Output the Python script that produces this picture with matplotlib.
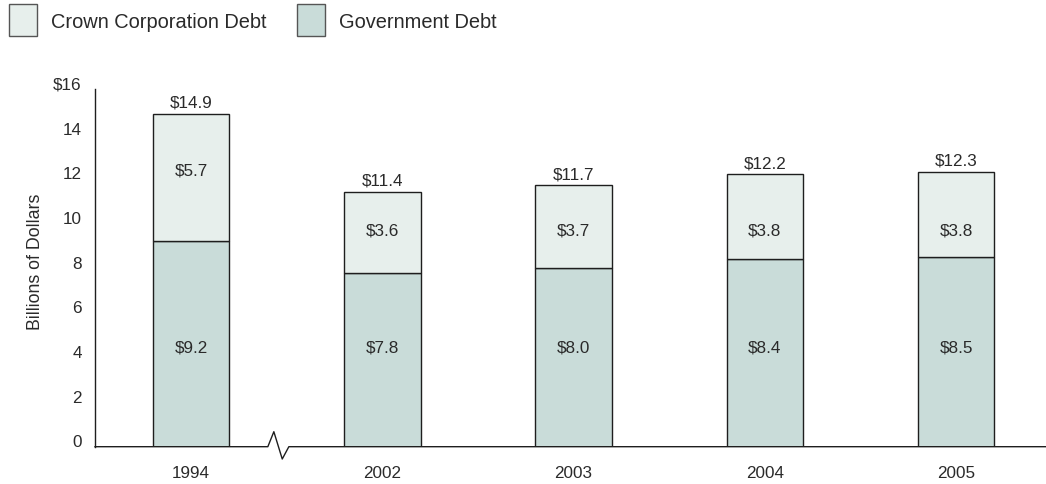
import matplotlib.pyplot as plt
import matplotlib.transforms as mtransforms
from matplotlib.patches import Rectangle
from matplotlib import font_manager

# Debt by year, billions of dollars
years = ['1994', '2002', '2003', '2004', '2005']
government_debt = [9.2, 7.8, 8.0, 8.4, 8.5]
crown_debt = [5.7, 3.6, 3.7, 3.8, 3.8]
total_debt = [14.9, 11.4, 11.7, 12.2, 12.3]
y_ticks = [0, 2, 4, 6, 8, 10, 12, 14, 16]
y_tick_labels = ['0', '2', '4', '6', '8', '10', '12', '14', '$16']

# label heights inside the segments
gov_label_y = [4.45, 4.45, 4.45, 4.45, 4.45]
crown_label_y = [12.4, 9.7, 9.7, 9.7, 9.7]

CROWN_COLOR = '#e7efec'
GOV_COLOR = '#c9dcd9'
EDGE_COLOR = '#1e1e1e'
TEXT_COLOR = '#2a2a2a'
NUM_SIZE = 12.3

installed = {f.name for f in font_manager.fontManager.ttflist}
family = 'Liberation Sans Narrow' if 'Liberation Sans Narrow' in installed else 'Liberation Sans'
plt.rcParams['font.family'] = [family, 'DejaVu Sans']

fig = plt.figure(figsize=(10.46, 4.85), dpi=100)
W, H = 1046, 485
ax = fig.add_axes([95 / W, 1 - 447.7 / H, (W - 95) / W, (447.7 - 90.4) / H])

x = list(range(len(years)))
bar_w = 0.40
ax.bar(x, government_debt, width=bar_w, color=GOV_COLOR, edgecolor=EDGE_COLOR, linewidth=1.0, zorder=2)
ax.bar(x, crown_debt, width=bar_w, bottom=government_debt, color=CROWN_COLOR,
       edgecolor=EDGE_COLOR, linewidth=1.0, zorder=2)

for i in x:
    ax.text(i, gov_label_y[i], f'${government_debt[i]:.1f}', ha='center', va='center',
            fontsize=NUM_SIZE, color=TEXT_COLOR)
    ax.text(i, crown_label_y[i], f'${crown_debt[i]:.1f}', ha='center', va='center',
            fontsize=NUM_SIZE, color=TEXT_COLOR)
    ax.annotate(f'${total_debt[i]:.1f}', (i, total_debt[i]), xytext=(0, 3),
                textcoords='offset points', ha='center', va='bottom',
                fontsize=NUM_SIZE, color=TEXT_COLOR)

ax.set_xlim(-0.502, 4.47)
ax.set_ylim(0, 16)

# baseline with a break between 1994 and 2002
px_x = 1 / 191.25
px_y = 16 / 357.3
bx = 0.455
xmin, xmax = ax.get_xlim()
base_x = [xmin, bx - 10.2 * px_x, bx - 4.2 * px_x, bx + 4.2 * px_x, bx + 10.8 * px_x, xmax]
base_y = [0, 0, 15 * px_y, -12.3 * px_y, 0, 0]
ax.plot(base_x, base_y, color=EDGE_COLOR, linewidth=1.0, clip_on=False, zorder=3)

for side in ['top', 'right', 'bottom']:
    ax.spines[side].set_visible(False)
ax.spines['left'].set_color(EDGE_COLOR)
ax.spines['left'].set_linewidth(1.0)

ax.set_xticks(x)
ax.set_xticklabels(years)
ax.set_yticks(y_ticks)
ax.set_yticklabels(y_tick_labels)
ax.tick_params(axis='x', length=0, pad=13, labelsize=NUM_SIZE, colors=TEXT_COLOR)
ax.tick_params(axis='y', length=0, pad=9.5, labelsize=NUM_SIZE, colors=TEXT_COLOR)
shift = mtransforms.ScaledTranslation(0, 6.5 / 100, fig.dpi_scale_trans)
for lbl in ax.get_yticklabels():
    lbl.set_transform(lbl.get_transform() + shift)

ax.set_ylabel('Billions of Dollars', fontsize=NUM_SIZE + 0.5, color=TEXT_COLOR, va='center')
ax.yaxis.set_label_coords(-0.063, 0.52)

# legend across the top
legend_items = [('Crown Corporation Debt', CROWN_COLOR, 9), ('Government Debt', GOV_COLOR, 297)]
for label, color, left in legend_items:
    fig.patches.append(Rectangle((left / W, 1 - 37 / H), 28 / W, 32 / H, transform=fig.transFigure,
                                 facecolor=color, edgecolor='#555555', linewidth=1.0))
    fig.text((left + 42) / W, 1 - 22 / H, label, ha='left', va='center',
             fontsize=14.4, color=TEXT_COLOR)

fig.savefig('out.png', dpi=100)
